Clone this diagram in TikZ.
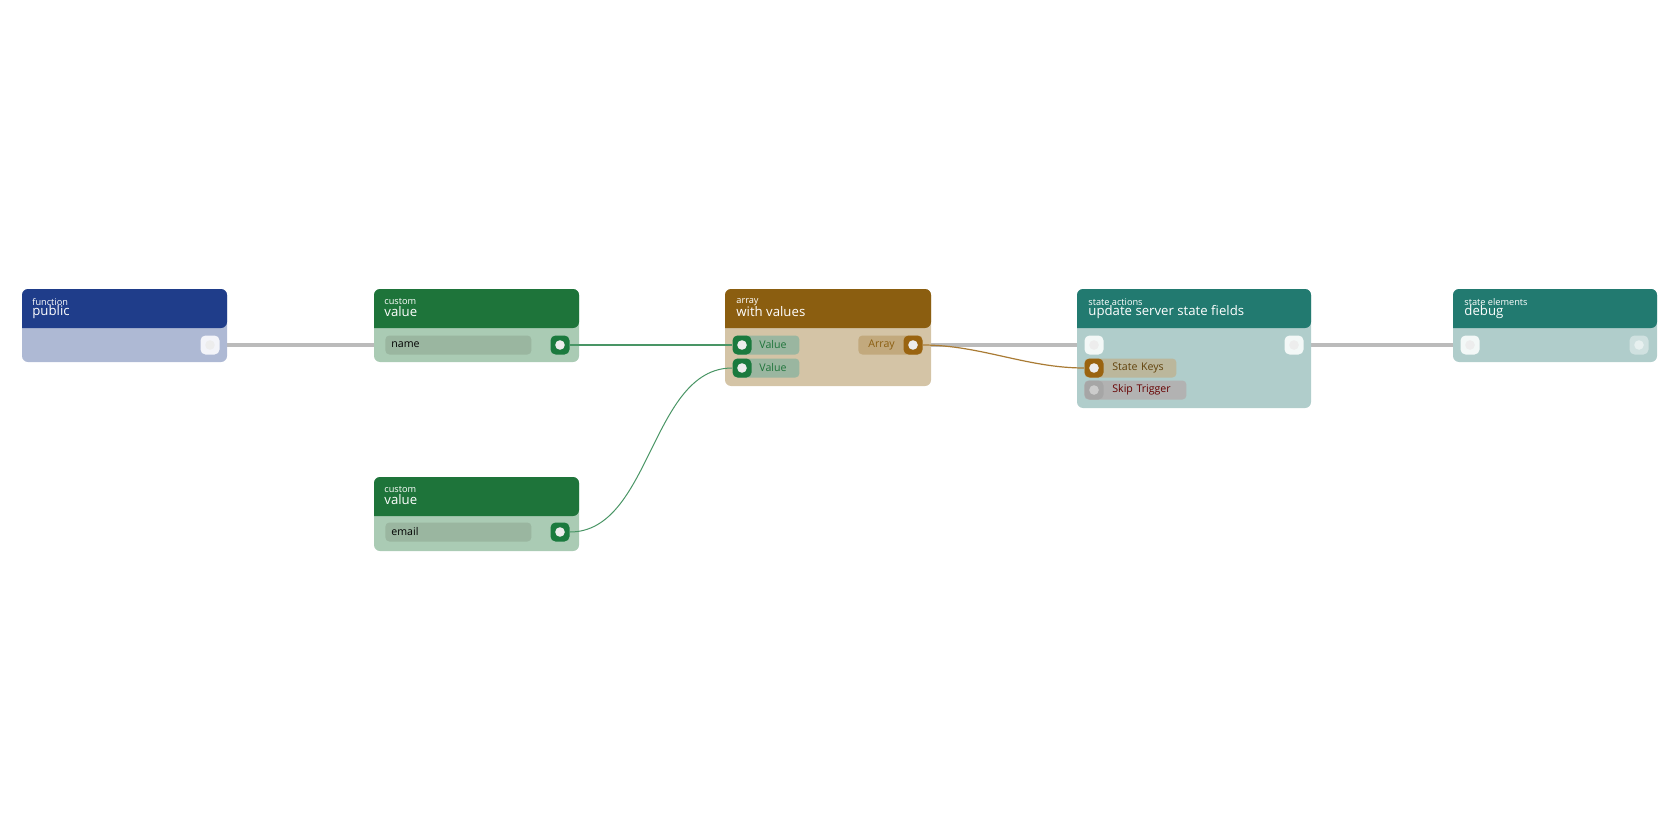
\documentclass[tikz,border=0pt]{standalone}
\usepackage{fontspec}
\setmainfont{Open Sans}
\usetikzlibrary{positioning,backgrounds}
\definecolor{fnHead}{HTML}{1F3D8A}
\definecolor{fnBody}{HTML}{AEB9D4}
\definecolor{cuHead}{HTML}{1E743A}
\definecolor{cuBody}{HTML}{AACBB4}
\definecolor{cuField}{HTML}{9AB6A0}
\definecolor{cuPort}{HTML}{1B7A3E}
\definecolor{arHead}{HTML}{8B5E10}
\definecolor{arBody}{HTML}{D4C4A6}
\definecolor{arField}{HTML}{C2A97D}
\definecolor{arPort}{HTML}{9A6410}
\definecolor{stHead}{HTML}{227A70}
\definecolor{stBody}{HTML}{B0CDCB}
\definecolor{wire}{HTML}{BBBBBB}
\tikzset{
    kind/.style = {
        anchor=west, text=white!80, font=\fontsize{4.6}{5}\selectfont, inner sep=0pt,
        },
    title/.style = {
        anchor=west, text=white, font=\fontsize{6.6}{7}\selectfont, inner sep=0pt,
        },
    port/.style = {
        minimum size=9.5pt, inner sep=0pt, rounded corners=2.5pt,
        path picture={\fill[white!93!black] (path picture bounding box.center) circle (2.4pt);},
        },
    field/.style = {
        rounded corners=2pt, minimum height=9.5pt, inner ysep=0pt, inner xsep=0pt,
        align=left, font=\fontsize{5.3}{6}\selectfont, anchor=west,
        },
    link/.style = {
        draw=wire, line width=2pt,
        },
}
% box: x1, y1, x2, header bottom, y2, head colour, body colour
\newcommand{\flowbox}[7]{%
    \fill[#7, rounded corners=3pt] (#1,#2) rectangle (#3,#5);
    \fill[#6, rounded corners=3pt] (#1,#4) -- (#1,#2) -- (#3,#2) -- (#3,#4) [sharp corners] -- cycle;
}
\begin{document}
\begin{tikzpicture}[x=0.5pt, y=-0.5pt]
    \useasboundingbox (0,0) rectangle (1680,840);

    % function public
    \flowbox{22}{289}{227}{328}{362}{fnHead}{fnBody}
    \node[kind] at (32,302) {function};
    \node[title] at (32,312) {public};
    \node[port, fill=white!85!fnBody] (pubOut) at (210,345) {};

    % custom value name
    \flowbox{374}{289}{579}{328}{362}{cuHead}{cuBody}
    \node[kind] at (384,302) {custom};
    \node[title] at (384,312) {value};
    \coordinate (nameIn) at (374,345);
    \node[field, fill=cuField, text width=73pt] (nameField) at (385,345) {\hspace{3pt}name};
    \node[port, fill=cuPort] (nameOut) at (560,345) {};

    % custom value email
    \flowbox{374}{477}{579}{516}{551}{cuHead}{cuBody}
    \node[kind] at (384,490) {custom};
    \node[title] at (384,500) {value};
    \node[field, fill=cuField, text width=73pt] (emailField) at (385,532) {\hspace{3pt}email};
    \node[port, fill=cuPort] (emailOut) at (560,532) {};

    % array with values
    \flowbox{725}{289}{931}{328}{386}{arHead}{arBody}
    \node[kind] at (736,302) {array};
    \node[title] at (736,312) {with values};
    \node[field, fill=cuField, text width=33pt, text=cuHead] (valAField) at (733,345) {\hspace{13pt}Value};
    \node[field, fill=cuField, text width=33pt, text=cuHead] (valBField) at (733,368) {\hspace{13pt}Value};
    \node[port, fill=cuPort] (valA) at (742,345) {};
    \node[port, fill=cuPort] (valB) at (742,368) {};
    \node[field, fill=arField, text width=32pt, text=arHead] (arrField) at (858,345) {\hspace{5pt}Array};
    \node[port, fill=arPort] (arrOut) at (913,345) {};

    % state actions update server state fields
    \flowbox{1077}{289}{1311}{328}{408}{stHead}{stBody}
    \node[kind] at (1088,302) {state actions};
    \node[title] at (1088,312) {update server state fields};
    \node[port, fill=white!85!stBody] (updIn) at (1094,345) {};
    \node[port, fill=white!85!stBody] (updOut) at (1294,345) {};
    \node[field, fill=arField!60!stBody, text width=46pt, text=arHead!70!black] (keysField) at (1084,368) {\hspace{14pt}State Keys};
    \node[field, fill=black!30, text width=51pt, text=red!40!black] (skipField) at (1084,390) {\hspace{14pt}Skip Trigger};
    \node[port, fill=arPort] (keysIn) at (1094,368) {};
    \node[port, fill=black!35, path picture={\fill[black!20] (path picture bounding box.center) circle (2.4pt);}] (skipIn) at (1094,390) {};

    % state elements debug
    \flowbox{1453}{289}{1657}{328}{362}{stHead}{stBody}
    \node[kind] at (1464,302) {state elements};
    \node[title] at (1464,312) {debug};
    \node[port, fill=white!85!stBody] (dbgIn) at (1470,345) {};
    \node[port, fill=white!40!stBody, path picture={\fill[white!70!stBody] (path picture bounding box.center) circle (2.4pt);}] (dbgOut) at (1639,345) {};

    \begin{scope}[on background layer]
        \draw[link] (pubOut) -- (nameIn);
        \draw[link] (arrOut) -- (updIn);
        \draw[link] (updOut) -- (dbgIn);
    \end{scope}
    \draw[cuPort!80, line width=0.6pt] (nameOut.east) -- (valA.west);
    \draw[cuPort!80, line width=0.5pt] (emailOut.east) to[out=0, in=180, looseness=0.9] (valB.west);
    \draw[arPort!85, line width=0.6pt] (arrOut.east) to[out=0, in=180, looseness=0.9] (keysIn.west);
\end{tikzpicture}
\end{document}
